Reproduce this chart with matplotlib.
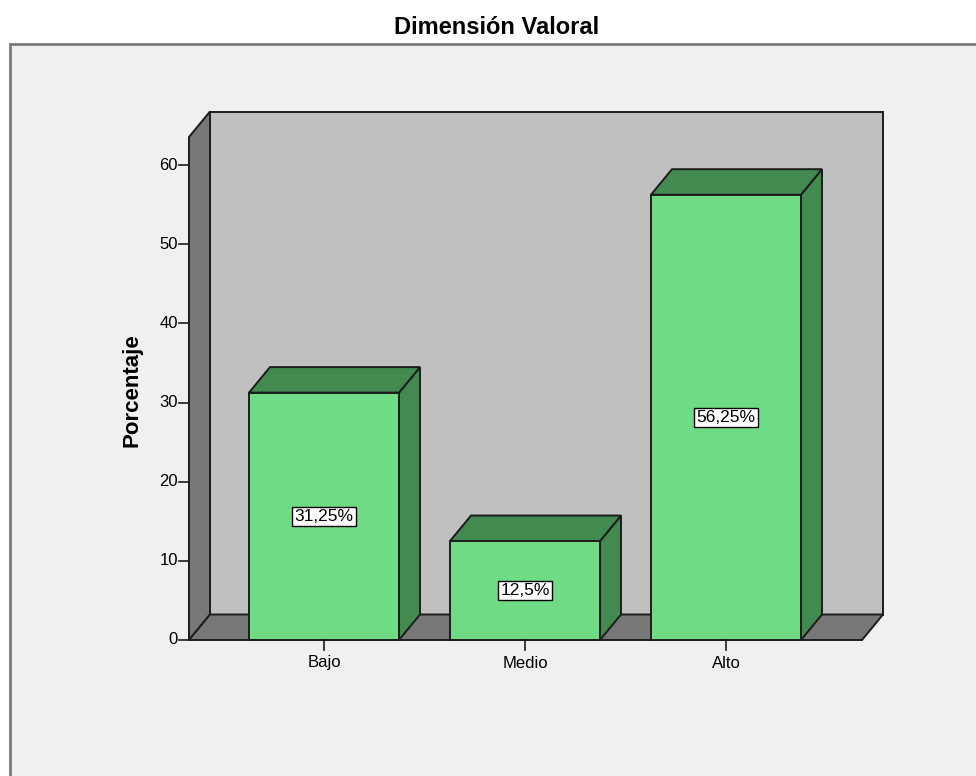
import matplotlib
matplotlib.use("Agg")
import matplotlib.pyplot as plt
from matplotlib.patches import Polygon, Rectangle

plt.rcParams['font.family'] = ['Liberation Sans', 'DejaVu Sans']

# ---- data ----
title = "Dimensión Valoral"
categories = ["Bajo", "Medio", "Alto"]
values = [31.25, 12.5, 56.25]
value_labels = ["31,25%", "12,5%", "56,25%"]
yticks = [0, 10, 20, 30, 40, 50, 60]
ylabel = "Porcentaje"

# ---- styling / geometry ----
W, H = 976, 776
fig = plt.figure(figsize=(W / 100, H / 100), dpi=100)
fig.patch.set_facecolor("white")
ax = fig.add_axes([0, 0, 1, 1])
ax.set_axis_off()

# pixel mapping -> data limits (x: category index, y: percent)
px_per_x = 201.0
x0_px = 324.0
px_per_y = 475.0 / 60.0
y0_px = 640.0
ax.set_xlim((0 - x0_px) / px_per_x, (W - x0_px) / px_per_x)
ax.set_ylim((y0_px - H) / px_per_y, y0_px / px_per_y)

def px2x(p):
    return (p - x0_px) / px_per_x

def px2y(p):
    return (y0_px - p) / px_per_y

dx = 21.0 / px_per_x        # depth offset in x data units
dy = 25.5 / px_per_y        # depth offset in y data units
bar_w = 150.0 / px_per_x
fl_left = px2x(189)
fl_right = px2x(862)
wall_top = px2y(137)

edge = "#1c1c1c"
lw = 1.4
bg_frame = "#f0f0f0"
back_col = "#c0c0c0"
dark_grey = "#777777"
green_front = "#6fdc85"
green_dark = "#438a50"

# outer frame
ax.add_patch(Rectangle((px2x(10), px2y(H + 20)), px2x(W + 20) - px2x(10),
                       px2y(44) - px2y(H + 20), facecolor=bg_frame,
                       edgecolor="#7a7a7a", linewidth=2, zorder=0))

# back wall
ax.add_patch(Polygon([(fl_left + dx, dy), (fl_right + dx, dy),
                      (fl_right + dx, wall_top + dy), (fl_left + dx, wall_top + dy)],
                     closed=True, facecolor=back_col, edgecolor=edge, lw=lw, zorder=1))
# left wall
ax.add_patch(Polygon([(fl_left, 0), (fl_left + dx, dy), (fl_left + dx, wall_top + dy),
                      (fl_left, wall_top)],
                     closed=True, facecolor=dark_grey, edgecolor=edge, lw=lw, zorder=2))
# floor
ax.add_patch(Polygon([(fl_left, 0), (fl_right, 0), (fl_right + dx, dy), (fl_left + dx, dy)],
                     closed=True, facecolor=dark_grey, edgecolor=edge, lw=lw, zorder=2))

# bars
for i, (v, lab) in enumerate(zip(values, value_labels)):
    l, r = i - bar_w / 2, i + bar_w / 2
    # side
    ax.add_patch(Polygon([(r, 0), (r + dx, dy), (r + dx, v + dy), (r, v)],
                         closed=True, facecolor=green_dark, edgecolor=edge, lw=lw, zorder=3))
    # top
    ax.add_patch(Polygon([(l, v), (r, v), (r + dx, v + dy), (l + dx, v + dy)],
                         closed=True, facecolor=green_dark, edgecolor=edge, lw=lw, zorder=3))
    # front
    ax.add_patch(Rectangle((l, 0), bar_w, v, facecolor=green_front,
                           edgecolor=edge, lw=lw, zorder=4))
    ax.text(i, v / 2, lab, ha="center", va="center", fontsize=12.5, color="black",
            zorder=6,
            bbox=dict(boxstyle="square,pad=0.12", facecolor="white",
                      edgecolor="black", linewidth=1.0))
    # category tick & label
    ax.plot([i, i], [0, px2y(650)], color=edge, lw=1.2, zorder=5)
    ax.text(i, px2y(663), categories[i], ha="center", va="center", fontsize=12,
            color="black")

# y ticks
for t in yticks:
    ax.plot([px2x(179), fl_left], [t, t], color=edge, lw=1.2, zorder=5)
    ax.text(px2x(178), t, str(t), ha="right", va="center", fontsize=12, color="black")

ax.text(px2x(132), px2y(390), ylabel, rotation=90, ha="center", va="center",
        fontsize=16, fontweight="bold", color="black")

ax.text(px2x(497), px2y(28), title, ha="center", va="center", fontsize=17,
        fontweight="bold", color="black")

fig.savefig("out.png", dpi=100, facecolor=fig.get_facecolor())
